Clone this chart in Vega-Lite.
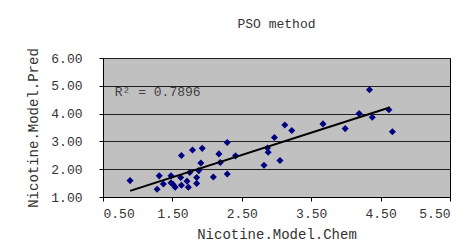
{
  "$schema": "https://vega.github.io/schema/vega-lite/v6.json",
  "width": 347,
  "height": 139,
  "autosize": "none",
  "padding": {"left": 103, "top": 58, "right": 26, "bottom": 51},
  "background": "white",
  "title": {"text": "PSO method", "font": "Liberation Mono", "fontSize": 13, "fontWeight": "normal", "color": "#333333", "offset": 17, "frame": "group", "anchor": "middle"},
  "config": {
    "view": {"fill": "#C0C0C0", "stroke": "#000000", "strokeWidth": 1},
    "axis": {
      "labelFont": "Liberation Mono", "labelFontSize": 13, "labelColor": "#333333", "labelOverlap": false,
      "titleFont": "Liberation Mono", "titleFontSize": 14, "titleFontWeight": "normal", "titleColor": "#333333",
      "domainColor": "#000000", "tickColor": "#000000", "tickSize": 4
    }
  },
  "datasets": {
    "pts": [
      {"chem": 0.89, "pred": 1.59},
      {"chem": 1.28, "pred": 1.28},
      {"chem": 1.31, "pred": 1.76},
      {"chem": 1.37, "pred": 1.47},
      {"chem": 1.48, "pred": 1.76},
      {"chem": 1.48, "pred": 1.51},
      {"chem": 1.51, "pred": 1.45},
      {"chem": 1.54, "pred": 1.35},
      {"chem": 1.63, "pred": 2.49},
      {"chem": 1.62, "pred": 1.70},
      {"chem": 1.63, "pred": 1.42},
      {"chem": 1.71, "pred": 1.57},
      {"chem": 1.73, "pred": 1.35},
      {"chem": 1.75, "pred": 1.88},
      {"chem": 1.79, "pred": 2.69},
      {"chem": 1.85, "pred": 1.70},
      {"chem": 1.85, "pred": 1.49},
      {"chem": 1.88, "pred": 1.95},
      {"chem": 1.91, "pred": 2.22},
      {"chem": 1.93, "pred": 2.75},
      {"chem": 2.09, "pred": 1.72},
      {"chem": 2.17, "pred": 2.55},
      {"chem": 2.19, "pred": 2.24},
      {"chem": 2.29, "pred": 2.96},
      {"chem": 2.29, "pred": 1.83},
      {"chem": 2.41, "pred": 2.48},
      {"chem": 2.82, "pred": 2.14},
      {"chem": 2.87, "pred": 2.76},
      {"chem": 2.88, "pred": 2.61},
      {"chem": 2.97, "pred": 3.14},
      {"chem": 3.05, "pred": 2.31},
      {"chem": 3.12, "pred": 3.59},
      {"chem": 3.22, "pred": 3.39},
      {"chem": 3.67, "pred": 3.63},
      {"chem": 3.99, "pred": 3.46},
      {"chem": 4.19, "pred": 4.00},
      {"chem": 4.34, "pred": 4.86},
      {"chem": 4.38, "pred": 3.87},
      {"chem": 4.62, "pred": 4.14},
      {"chem": 4.67, "pred": 3.35}
    ],
    "fit": [
      {"chem": 0.89, "pred": 1.22},
      {"chem": 4.63, "pred": 4.22}
    ],
    "note": [
      {"chem": 0.67, "pred": 4.78, "label": "R² = 0.7896"}
    ]
  },
  "layer": [
    {
      "data": {"name": "pts"},
      "mark": {"type": "point", "shape": "diamond", "filled": true, "color": "#000080", "opacity": 1, "size": 50},
      "encoding": {
        "x": {"field": "chem", "type": "quantitative", "scale": {"domain": [0.5, 5.5], "nice": false, "zero": false},
          "axis": {"title": "Nicotine.Model.Chem", "values": [0.5, 1.5, 2.5, 3.5, 4.5, 5.5], "tickCount": 12, "format": ".2f", "grid": false, "labelPadding": 6, "titlePadding": 7}},
        "y": {"field": "pred", "type": "quantitative", "scale": {"domain": [1, 6], "nice": false, "zero": false},
          "axis": {"title": "Nicotine.Model.Pred", "values": [1, 2, 3, 4, 5, 6], "tickCount": 12, "format": ".2f", "grid": true, "gridColor": "#202020", "gridWidth": 1, "gridOpacity": 1, "labelPadding": 17, "titlePadding": 10}}
      }
    },
    {
      "data": {"name": "fit"},
      "mark": {"type": "line", "color": "#000000", "strokeWidth": 2},
      "encoding": {
        "x": {"field": "chem", "type": "quantitative"},
        "y": {"field": "pred", "type": "quantitative"}
      }
    },
    {
      "data": {"name": "note"},
      "mark": {"type": "text", "align": "left", "baseline": "middle", "font": "Liberation Mono", "fontSize": 13, "color": "#404040"},
      "encoding": {
        "x": {"field": "chem", "type": "quantitative"},
        "y": {"field": "pred", "type": "quantitative"},
        "text": {"field": "label"}
      }
    }
  ]
}
